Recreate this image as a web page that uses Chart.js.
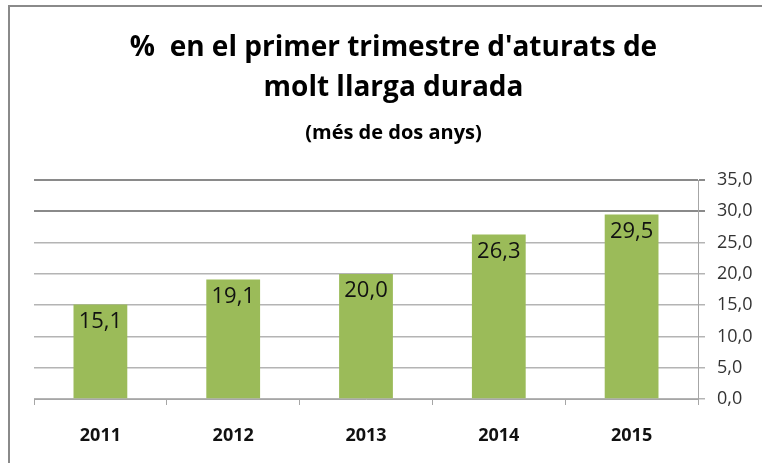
<!DOCTYPE html>
<html>
<head>
<meta charset="utf-8">
<script src="https://cdn.jsdelivr.net/npm/chart.js"></script>
<style>
    body { margin: 0; background: #fff; }
    #wrap { width: 767px; height: 463px; position: relative; }
</style>
</head>
<body>
<div id="wrap"><canvas id="chart"></canvas></div>
<script>
const years = ['2011', '2012', '2013', '2014', '2015'];
const percentages = [15.1, 19.1, 20.0, 26.3, 29.5];
const titleLines = ['%  en el primer trimestre d\'aturats de', 'molt llarga durada'];
const subtitleText = '(més de dos anys)';

const FONT = "'Open Sans', sans-serif";

function comma(v) {
    return v.toFixed(1).replace('.', ',');
}

// white page and the frame lines at top and left
const frame = {
    id: 'frame',
    beforeDraw(chart) {
        const ctx = chart.ctx;
        ctx.save();
        ctx.fillStyle = '#fff';
        ctx.fillRect(0, 0, chart.width, chart.height);
        ctx.strokeStyle = '#8a8a8a';
        ctx.lineWidth = 2;
        ctx.beginPath();
        ctx.moveTo(9, chart.height);
        ctx.lineTo(9, 6);
        ctx.lineTo(762, 6);
        ctx.stroke();
        ctx.restore();
    }
};

// value labels just inside the top of each bar
const barLabels = {
    id: 'barLabels',
    afterDatasetsDraw(chart) {
        const ctx = chart.ctx;
        const meta = chart.getDatasetMeta(0);
        ctx.save();
        ctx.font = '22px ' + FONT;
        ctx.fillStyle = '#111';
        ctx.textAlign = 'center';
        ctx.textBaseline = 'middle';
        meta.data.forEach((bar, i) => {
            ctx.fillText(comma(percentages[i]), bar.x, bar.y + 17);
        });
        ctx.restore();
    }
};

new Chart(document.getElementById('chart'), {
    type: 'bar',
    data: {
        labels: years,
        datasets: [{
            data: percentages,
            backgroundColor: '#9BBB59',
            categoryPercentage: 0.45,
            barPercentage: 0.9
        }]
    },
    options: {
        responsive: true,
        maintainAspectRatio: false,
        animation: false,
        layout: { padding: { left: 34, right: 14, bottom: 0 } },
        plugins: {
            legend: { display: false },
            tooltip: { enabled: false },
            title: {
                display: true,
                text: titleLines,
                color: '#000',
                font: { family: FONT, size: 28, weight: 'bold', lineHeight: 1.43 },
                padding: { top: 28, bottom: 11 }
            },
            subtitle: {
                display: true,
                text: subtitleText,
                color: '#000',
                font: { family: FONT, size: 20, weight: 'bold', lineHeight: 1.45 },
                padding: { top: 0, bottom: 32 }
            }
        },
        scales: {
            x: {
                afterFit: s => { s.height = 64; },
                grid: {
                    offset: true,
                    drawOnChartArea: false,
                    drawTicks: true,
                    tickLength: 6,
                    color: '#a6a6a6'
                },
                border: { color: '#a6a6a6', width: 1 },
                ticks: {
                    color: '#111',
                    padding: 20,
                    font: { family: FONT, size: 18, weight: 'bold' }
                }
            },
            y: {
                position: 'right',
                min: 0,
                max: 35,
                afterFit: s => { s.width = 55; },
                ticks: {
                    stepSize: 5,
                    color: '#333',
                    padding: 12,
                    font: { family: FONT, size: 18 },
                    callback: v => comma(v)
                },
                grid: {
                    tickLength: 7,
                    color: c => (c.tick && c.tick.value >= 30) ? '#8a8a8a' : '#b4b4b4',
                    lineWidth: c => (c.tick && c.tick.value >= 30) ? 2 : 1.5
                },
                border: { color: '#a6a6a6', width: 1 }
            }
        }
    },
    plugins: [frame, barLabels]
});
</script>
</body>
</html>
